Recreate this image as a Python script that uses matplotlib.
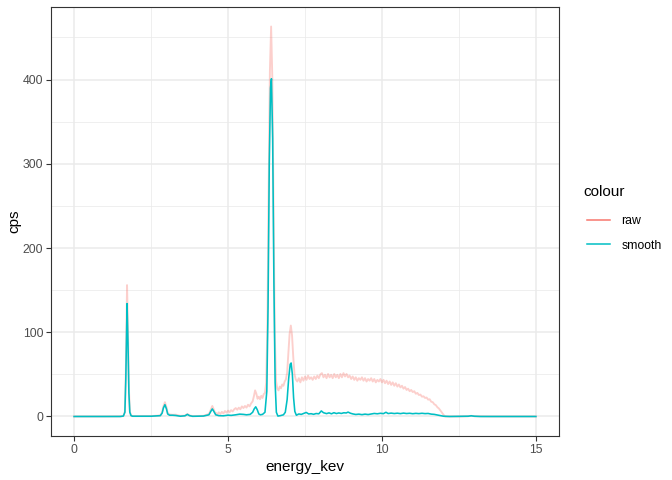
import numpy as np
import matplotlib
matplotlib.use("Agg")
import matplotlib.pyplot as plt
from matplotlib.ticker import MultipleLocator

plt.rcParams['font.family'] = ['Liberation Sans', 'DejaVu Sans']

# raw spectrum (energy in keV, counts per second)
energy_raw = [0.0, 0.5, 1.0, 1.5, 1.6, 1.65, 1.68, 1.72, 1.75, 1.78, 1.81, 1.85, 1.9,
              2.5, 2.8, 2.86, 2.9, 2.95, 3.0, 3.04, 3.1, 3.2, 3.3, 3.45, 3.6, 3.68,
              3.75, 3.85, 4.2, 4.38, 4.44, 4.49, 4.54, 4.58,
              4.62, 4.66, 4.70, 4.75, 4.80, 4.85, 4.90, 4.95, 5.00, 5.05, 5.10, 5.15,
              5.20, 5.25, 5.30, 5.35, 5.40, 5.45, 5.50, 5.55, 5.60, 5.65, 5.70, 5.75,
              5.80, 5.84, 5.88, 5.92, 5.96, 6.00, 6.04, 6.08, 6.12, 6.16, 6.20, 6.24,
              6.28, 6.32, 6.36, 6.40, 6.44, 6.48, 6.52, 6.56, 6.60, 6.64, 6.68, 6.72,
              6.76, 6.80, 6.84, 6.88, 6.92, 6.96, 7.00, 7.04, 7.08, 7.12, 7.16, 7.20,
              7.25, 7.30, 7.35, 7.40, 7.45, 7.50, 7.55, 7.60, 7.65, 7.70, 7.75, 7.80,
              7.85, 7.90, 7.95, 8.00, 8.05, 8.10, 8.15, 8.20, 8.25, 8.30, 8.35, 8.40,
              8.45, 8.50, 8.55, 8.60, 8.65, 8.70, 8.75, 8.80, 8.85, 8.90, 8.95, 9.00,
              9.05, 9.10, 9.15, 9.20, 9.25, 9.30, 9.35, 9.40, 9.45, 9.50, 9.55, 9.60,
              9.65, 9.70, 9.75, 9.80, 9.85, 9.90, 9.95, 10.00, 10.05, 10.10, 10.15,
              10.20, 10.25, 10.30, 10.35, 10.40, 10.45, 10.50, 10.55, 10.60, 10.65,
              10.70, 10.75, 10.80, 10.85, 10.90, 10.95, 11.00, 11.05, 11.10, 11.15,
              11.20, 11.25, 11.30, 11.35, 11.40, 11.45, 11.50, 11.55, 11.60, 11.65,
              11.70, 11.75, 11.80, 11.85, 11.90, 11.95, 12.00, 12.05, 12.5, 12.8,
              12.9, 13.0, 13.5, 14.0, 15.0]
cps_raw = [0, 0, 0, 0.2, 0.5, 6, 52, 156, 102, 34, 6, 1.2, 0.5,
           0.5, 1.2, 5, 12, 17, 11, 4, 2.5, 2, 2.2, 0.8, 1, 3,
           1.2, 0.5, 0.8, 3, 8, 12.5, 8, 4.5,
           4, 2.5, 5, 3, 5.5, 3.5, 6.5, 4.5, 7, 5, 7.5, 6,
           8.5, 10, 8, 10.5, 8.5, 12, 10, 12.5, 10.5, 14, 12, 15.5,
           18, 24, 31, 27, 21, 23.5, 20.5, 24.5, 22, 26.5, 28, 40,
           110, 270, 410, 463, 400, 240, 95, 42, 33, 31, 35.5, 33.5,
           38, 36.5, 41.5, 44, 52, 75, 98, 108, 96, 70, 50, 44,
           41.5, 45.5, 40.5, 46.5, 42.5, 47.5, 43.5, 48.5, 44.5, 46.5, 43.5, 47.5,
           44.5, 48.5, 45.5, 50, 51.5, 46.5, 49.5, 45.5, 50.5, 46.5, 49.5, 45.5,
           50.5, 46.5, 49.5, 45.5, 50.5, 46.5, 51.5, 47.5, 50.5, 46.5, 48.5, 44.5,
           47.5, 43.5, 46.5, 42.5, 45.5, 43.5, 46.5, 42.5, 45.5, 41.5, 44.5, 42.5,
           45.5, 41.5, 44.5, 40.5, 43.5, 41.5, 44.5, 40.5, 43.5, 39.5, 42.5,
           38.5, 41.5, 37.5, 40.5, 36.5, 39.5, 35.5, 38, 34.5, 36.5,
           33, 35, 31.5, 33, 30, 31.5, 29, 30, 27, 28,
           25.5, 26, 23.5, 24, 22, 22.5, 20, 20.5, 17.5, 17,
           14.5, 13.5, 11, 9.5, 7, 4.5, 2, 0, 0, 0.3,
           0.8, 0.3, 0, 0, 0]

# smoothed spectrum
energy_smooth = [0.0, 1.5, 1.6, 1.65, 1.68, 1.72, 1.75, 1.78, 1.81, 1.85, 1.9, 2.5,
                 2.8, 2.86, 2.9, 2.95, 3.0, 3.04, 3.1, 3.2, 3.3, 3.45, 3.6, 3.68,
                 3.75, 3.85, 4.2, 4.38, 4.44, 4.49, 4.54, 4.6, 4.7, 4.85, 5.0, 5.1,
                 5.25, 5.38, 5.5, 5.6, 5.72, 5.8, 5.85, 5.9, 5.95, 6.0, 6.05, 6.12,
                 6.2, 6.26, 6.3, 6.34, 6.38, 6.41, 6.45, 6.49, 6.53, 6.57, 6.62, 6.7,
                 6.8, 6.86, 6.92, 6.97, 7.02, 7.05, 7.09, 7.13, 7.17, 7.22, 7.3, 7.38,
                 7.45, 7.54, 7.62, 7.7, 7.78, 7.86, 7.95, 8.03, 8.1, 8.2, 8.28, 8.36,
                 8.44, 8.52, 8.6, 8.68, 8.76, 8.84, 8.9, 8.98, 9.06, 9.15, 9.25, 9.35,
                 9.45, 9.55, 9.65, 9.75, 9.85, 9.95, 10.05, 10.13, 10.2, 10.3, 10.4,
                 10.5, 10.6, 10.7, 10.8, 10.9, 11.0, 11.1, 11.2, 11.3, 11.4, 11.5,
                 11.6, 11.7, 11.8, 11.9, 12.0, 12.2, 12.8, 12.9, 13.0, 13.2, 15.0]
cps_smooth = [0, 0, 0.5, 5, 45, 134, 88, 28, 5, 1, 0.3, 0.3,
              1, 4, 10, 14, 9, 3, 1.5, 1.5, 1.2, 0.3, 0.8, 2.5,
              1, 0.2, 0.5, 2, 6, 9, 6, 2, 1, 0.8, 1.6, 1.3,
              2, 2.8, 2.5, 2, 2.5, 5, 9, 11.5, 8, 3, 2, 2.5,
              5, 30, 130, 300, 390, 401, 330, 160, 40, 5, 0.5, 1,
              2, 5, 20, 45, 62, 63.5, 50, 22, 6, 1.5, 3, 2.5,
              3.5, 4.8, 3, 3.3, 2.6, 3.5, 3.2, 6.6, 4.5, 3.4, 4.3, 3.2,
              4.5, 3.5, 4.2, 3.6, 4.4, 4.2, 5.2, 3.8, 3, 2.4, 2.8, 2.2,
              2.8, 2.3, 3, 3.6, 3.2, 3.8, 3.4, 5, 3.5, 4, 3.5,
              3.9, 3.4, 4, 3.5, 3.8, 3.3, 3.7, 3.4, 3.8, 3.4, 3.6,
              2.8, 2.5, 1.8, 1, 0.3, 0, 0.3, 0.8, 0.3, 0, 0]

x_ticks = [0, 5, 10, 15]
y_ticks = [0, 100, 200, 300, 400]

raw_col = "#F8766D"
smooth_col = "#00BFC4"

fig = plt.figure(figsize=(6.72, 4.8), dpi=100)
ax = fig.add_axes([0.0759, 0.0917, 0.7559, 0.8937])

ax.plot(energy_raw, cps_raw, color=raw_col, alpha=0.35, lw=1.35)
ax.plot(energy_smooth, cps_smooth, color=smooth_col, lw=1.15)

# ggplot-like expansion
ymax = max(cps_raw)
ax.set_xlim(-0.75, 15.75)
ax.set_ylim(-0.05 * ymax, ymax * 1.05)

ax.set_xticks(x_ticks)
ax.set_yticks(y_ticks)
ax.xaxis.set_minor_locator(MultipleLocator(2.5))
ax.yaxis.set_minor_locator(MultipleLocator(50))
ax.grid(which="major", color="#EBEBEB", lw=1.1)
ax.grid(which="minor", color="#EBEBEB", lw=0.55)
ax.set_axisbelow(True)
ax.tick_params(which="minor", length=0)
ax.tick_params(which="major", length=3.5, width=0.8, color="#333333",
               labelsize=8.8, labelcolor="#4D4D4D", pad=2)
for s in ax.spines.values():
    s.set_color("#333333")
    s.set_linewidth(0.8)

ax.set_xlabel("energy_kev", fontsize=11, labelpad=3)
ax.set_ylabel("cps", fontsize=11, labelpad=1)

# legend
h_raw, = ax.plot([], [], color=raw_col, lw=1.1)
h_sm, = ax.plot([], [], color=smooth_col, lw=1.1)
fig.text(583 / 672, 1 - 192 / 480, "colour", fontsize=11, va="center", ha="left")
fig.legend([h_raw, h_sm], ["raw", "smooth"],
           loc="center left", bbox_to_anchor=(0.857, 1 - 233.5 / 480),
           frameon=False, fontsize=8.8,
           handlelength=1.9, labelspacing=1.0, handletextpad=0.9)

fig.savefig("out.png", dpi=100)
